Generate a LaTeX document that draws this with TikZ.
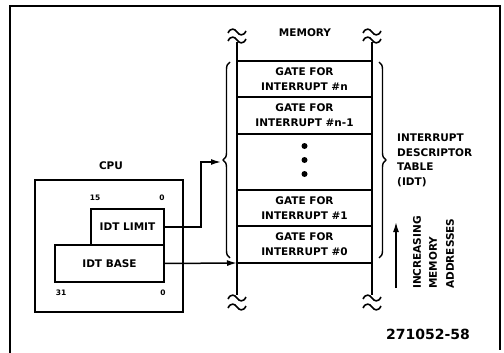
\documentclass[tikz,border=0pt]{standalone}
\usepackage{fontspec}
\setmainfont{DejaVu Sans}
\usetikzlibrary{positioning,arrows.meta,decorations.pathreplacing}

\tikzset{
  lbl/.style={font=\fontsize{10.5}{14.5}\selectfont\bfseries, inner sep=0pt},
  cell/.style={draw, line width=2pt, minimum width=135pt, inner sep=0pt, outer sep=0pt,
    align=center, font=\fontsize{10.5}{15}\selectfont\bfseries},
  reg/.style={draw, line width=2pt, inner sep=0pt, outer sep=0pt,
    font=\fontsize{10.5}{12}\selectfont\bfseries},
  bitnum/.style={font=\fontsize{7.5}{8}\selectfont\bfseries, inner sep=0pt},
  memline/.style={line width=2.4pt},
  ptr/.style={line width=1.5pt, -{Latex[length=10pt,width=6pt]}},
  brk/.pic={\draw[line width=1.6pt] (-9,1) .. controls (-6,-5) and (-2,-3) .. (0,0)
    .. controls (2,3) and (6,5) .. (9,-1);}
}

\begin{document}
\begin{tikzpicture}[x=1pt, y=-1pt]
    \useasboundingbox (0,0) rectangle (504,353);

    % Frame
    \draw[line width=1.6pt] (10,353) -- (10,6) -- (500,6) -- (500,350);

    % Memory column
    \node[lbl] (memTitle) at (305,33) {MEMORY};
    \draw[memline] (237,42) -- (237,295);
    \draw[memline] (372,42) -- (372,295);
    \foreach \x in {237,372}
      \foreach \y in {32,40,298,307}
        \pic at (\x,\y) {brk};

    % Gates of the table
    \node[cell, minimum height=36pt] (gateN) at (304.5,79) {GATE FOR\\INTERRUPT \#n};
    \node[cell, minimum height=37pt, below=0pt of gateN] (gateNm) {GATE FOR\\INTERRUPT \#n-1};
    \node[cell, minimum height=56pt, below=0pt of gateNm] (gateDots) {};
    \node[cell, minimum height=36pt, below=0pt of gateDots] (gateOne) {GATE FOR\\INTERRUPT \#1};
    \node[cell, minimum height=37pt, below=0pt of gateOne] (gateZero) {GATE FOR\\INTERRUPT \#0};
    \foreach \y in {146,160,174}
      \fill (304.5,\y) circle (3pt);

    % Braces
    \draw[line width=1.4pt, decorate, decoration={brace, amplitude=7pt}] (230,258) -- (230,62);
    \draw[line width=1.4pt, decorate, decoration={brace, amplitude=7pt}] (379,62) -- (379,258);
    \coordinate (idtTip) at (221,162);
    \node[lbl, anchor=north west, align=left] (idtLabel) at (397,134)
      {INTERRUPT\\DESCRIPTOR\\TABLE\\(IDT)};

    % Increasing addresses
    \coordinate (upFoot) at (396,288);
    \coordinate (upHead) at (396,222);
    \draw[ptr] (upFoot) -- (upHead);
    \node[lbl, rotate=90, anchor=west] (incr) at (417,289) {INCREASING};
    \node[lbl, rotate=90, anchor=west] (incrMem) at (433,289) {MEMORY};
    \node[lbl, rotate=90, anchor=west] (incrAdr) at (450,289) {ADDRESSES};

    % CPU registers
    \node[lbl] (cpuTitle) at (111,166) {CPU};
    \node[draw, line width=2pt, minimum width=148pt, minimum height=132pt] (cpu) at (109,246) {};
    \node[reg, minimum width=73pt, minimum height=36pt] (limit) at (127.5,227) {IDT LIMIT};
    \node[reg, minimum width=109pt, minimum height=37pt] (base) at (109.5,263.5) {IDT BASE};
    \node[bitnum] (bitA) at (95,198) {15};
    \node[bitnum] (bitB) at (162,198) {0};
    \node[bitnum] (bitC) at (61,293) {31};
    \node[bitnum] (bitD) at (163,293) {0};

    % Pointers
    \coordinate (bend) at (201,0);
    \draw[ptr] (limit.east) -| (bend |- idtTip) -- (idtTip);
    \draw[ptr] (base.east) -- (gateZero.south west);

    % Figure number
    \node[font=\fontsize{14}{15}\selectfont\bfseries, inner sep=0pt] (figNo) at (428,334) {271052-58};
\end{tikzpicture}
\end{document}
